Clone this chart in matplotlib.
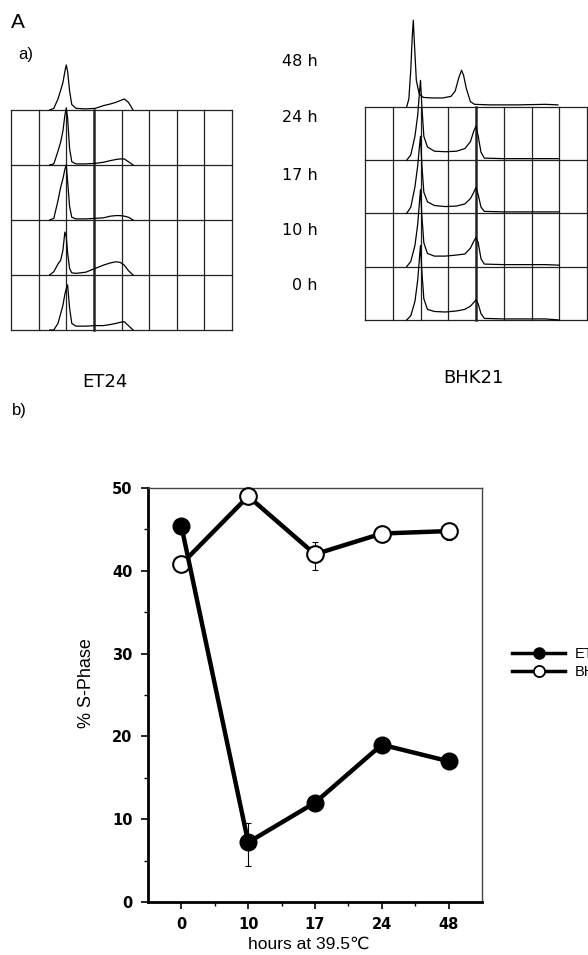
import numpy as np
import matplotlib
matplotlib.use("Agg")
import matplotlib.pyplot as plt
from matplotlib.lines import Line2D

plt.rcParams['font.family'] = ['Liberation Sans', 'DejaVu Sans']

W, H = 588, 955

# ---- a) flow cytometry histograms (x in grid columns, height in grid rows)
times = ['48 h', '24 h', '17 h', '10 h', '0 h']

et_ch = [1.40, 1.55, 1.70, 1.80, 1.88, 1.95, 2.00, 2.05, 2.12, 2.20, 2.35,
         2.70, 3.05, 3.35, 3.60, 3.80, 3.95, 4.10, 4.25, 4.42]
et_48 = [0.00, 0.03, 0.20, 0.36, 0.50, 0.70, 0.82, 0.70, 0.35, 0.10, 0.03,
         0.02, 0.03, 0.08, 0.11, 0.14, 0.17, 0.20, 0.14, 0.00]
et_24 = [0.00, 0.02, 0.25, 0.42, 0.62, 0.90, 1.04, 0.85, 0.30, 0.06, 0.02,
         0.02, 0.03, 0.05, 0.08, 0.10, 0.11, 0.11, 0.06, 0.00]
et_17 = [0.00, 0.03, 0.35, 0.60, 0.75, 0.92, 1.00, 0.70, 0.25, 0.05, 0.02,
         0.02, 0.03, 0.04, 0.07, 0.08, 0.08, 0.07, 0.05, 0.00]
et_10 = [0.00, 0.06, 0.20, 0.27, 0.45, 0.78, 0.70, 0.40, 0.12, 0.04, 0.03,
         0.05, 0.12, 0.18, 0.22, 0.24, 0.23, 0.18, 0.08, 0.00]
et_0 = [0.00, 0.00, 0.12, 0.30, 0.45, 0.65, 0.75, 0.82, 0.40, 0.12, 0.07,
        0.07, 0.08, 0.08, 0.10, 0.12, 0.14, 0.15, 0.08, 0.00]

bhk48_ch = [1.50, 1.58, 1.65, 1.70, 1.74, 1.78, 1.85, 1.95, 2.10, 2.40, 2.80,
            3.10, 3.25, 3.38, 3.48, 3.55, 3.65, 3.80, 3.95, 4.50, 5.50, 6.50, 6.95]
bhk_48 = [0.00, 0.15, 0.70, 1.30, 1.63, 1.20, 0.50, 0.25, 0.18, 0.17, 0.17,
          0.20, 0.30, 0.55, 0.69, 0.60, 0.35, 0.10, 0.05, 0.04, 0.04, 0.05, 0.04]
bhk_ch = [1.50, 1.65, 1.80, 1.90, 1.96, 2.00, 2.05, 2.12, 2.25, 2.50, 2.90,
          3.30, 3.60, 3.80, 3.92, 4.00, 4.08, 4.18, 4.30, 5.00, 5.80, 6.50, 7.00]
bhk_24 = [0.00, 0.10, 0.45, 0.85, 1.25, 1.50, 1.00, 0.45, 0.25, 0.17, 0.16,
          0.17, 0.22, 0.35, 0.55, 0.64, 0.45, 0.15, 0.04, 0.03, 0.03, 0.03, 0.03]
bhk_17 = [0.00, 0.12, 0.50, 0.90, 1.25, 1.45, 0.90, 0.40, 0.22, 0.15, 0.13,
          0.14, 0.18, 0.28, 0.40, 0.49, 0.35, 0.12, 0.04, 0.03, 0.03, 0.03, 0.03]
bhk_10 = [0.00, 0.10, 0.40, 0.80, 1.20, 1.45, 0.95, 0.45, 0.25, 0.20, 0.20,
          0.22, 0.24, 0.35, 0.48, 0.55, 0.45, 0.15, 0.05, 0.04, 0.04, 0.04, 0.03]
bhk_0 = [0.00, 0.08, 0.35, 0.75, 1.15, 1.40, 0.90, 0.40, 0.20, 0.16, 0.15,
         0.17, 0.20, 0.26, 0.33, 0.38, 0.30, 0.12, 0.03, 0.02, 0.02, 0.02, 0.00]

# ---- b) % S-phase
hours = ['0', '10', '17', '24', '48']
et24_s = [45.4, 7.2, 12.0, 19.0, 17.0]
et24_lo = [0, 2.9, 0, 0, 0]
et24_hi = [0, 2.4, 0, 0, 0]
bhk21_s = [40.8, 49.0, 42.0, 44.5, 44.8]
bhk21_lo = [0, 0, 1.9, 0, 1.1]
bhk21_hi = [0, 0, 1.5, 0, 0]


def px_rect(x0, y0, x1, y1):
    return [x0 / W, 1 - y1 / H, (x1 - x0) / W, (y1 - y0) / H]


def draw_grid(ax, thick_col):
    ax.set_xlim(0, 8)
    ax.set_ylim(0, 4)
    ax.axis('off')
    for i in range(9):
        ax.plot([i, i], [0, 4], color='#222222', lw=1.8 if i == thick_col else 0.9,
                clip_on=False)
    for j in range(5):
        ax.plot([0, 8], [j, j], color='#222222', lw=0.9, clip_on=False)


fig = plt.figure(figsize=(W / 100, H / 100), dpi=100)

ax_et = fig.add_axes(px_rect(11, 110, 232, 330))
draw_grid(ax_et, 3)
et_sets = [(et_ch, et_48), (et_ch, et_24), (et_ch, et_17), (et_ch, et_10), (et_ch, et_0)]
for k, (ch, h) in enumerate(et_sets):
    base = 4 - k
    ax_et.plot(ch, np.array(h) + base, color='black', lw=0.9, clip_on=False)

ax_bhk = fig.add_axes(px_rect(365, 107, 587, 320))
draw_grid(ax_bhk, 4)
bhk_sets = [(bhk48_ch, bhk_48), (bhk_ch, bhk_24), (bhk_ch, bhk_17),
            (bhk_ch, bhk_10), (bhk_ch, bhk_0)]
for k, (ch, h) in enumerate(bhk_sets):
    base = 4 - k
    ax_bhk.plot(ch, np.array(h) + base, color='black', lw=0.9, clip_on=False)

# labels of panel a
fig.text(11 / W, 1 - 22 / H, 'A', fontsize=15, va='center', ha='left')
fig.text(18 / W, 1 - 55 / H, 'a)', fontsize=12, va='center', ha='left')
for t, y in zip(times, [62, 118, 175, 230, 285]):
    fig.text(318 / W, 1 - y / H, t, fontsize=11.5, ha='right', va='center',
             family='DejaVu Sans')
fig.text(105 / W, 1 - 382 / H, 'ET24', fontsize=13, ha='center', va='center',
         family='DejaVu Sans')
fig.text(473 / W, 1 - 378 / H, 'BHK21', fontsize=13, ha='center', va='center',
         family='DejaVu Sans')
fig.text(12 / W, 1 - 410 / H, 'b)', fontsize=12, va='center', ha='left')

# ---- panel b
ax = fig.add_axes(px_rect(148, 488, 482, 902))
pos = np.arange(len(hours))
ax.errorbar(pos, bhk21_s, yerr=[bhk21_lo, bhk21_hi], fmt='none', ecolor='black',
            elinewidth=0.8, capsize=2, capthick=0.8, zorder=2)
ax.errorbar(pos, et24_s, yerr=[et24_lo, et24_hi], fmt='none', ecolor='black',
            elinewidth=0.8, capsize=2, capthick=0.8, zorder=2)
ax.plot(pos, bhk21_s, color='black', lw=3.2, marker='o', ms=12,
        mfc='white', mec='black', mew=1.5, zorder=3, clip_on=False)
ax.plot(pos, et24_s, color='black', lw=3.2, marker='o', ms=12,
        mfc='black', mec='black', zorder=4, clip_on=False)

ax.set_xlim(-0.5, 4.5)
ax.set_ylim(0, 50)
ax.set_xticks(pos)
ax.set_xticklabels(hours)
ax.set_xticks(pos[:-1] + 0.5, minor=True)
ax.set_yticks([0, 10, 20, 30, 40, 50])
ax.set_yticks([5, 15, 25, 35, 45], minor=True)
for lab in ax.get_xticklabels() + ax.get_yticklabels():
    lab.set_fontweight('bold')
    lab.set_fontsize(10.5)
    lab.set_family('DejaVu Sans')
ax.tick_params(which='major', direction='out', length=5, width=1.2, pad=6)
ax.tick_params(which='minor', direction='out', length=3, width=1.0)
ax.spines['left'].set_linewidth(2)
ax.spines['bottom'].set_linewidth(2)
ax.spines['top'].set_linewidth(1.0)
ax.spines['right'].set_linewidth(1.0)
ax.spines['top'].set_color('#444444')
ax.spines['right'].set_color('#444444')
ax.set_ylabel('% S-Phase', fontsize=13)
ax.yaxis.set_label_coords(-0.16, 0.53)
ax.set_xlabel('hours at 39.5\u2103', fontsize=12.5)
ax.xaxis.set_label_coords(0.48, -0.083)

handles = [Line2D([], [], color='black', lw=2.5, marker='o', ms=8, mfc='black', mec='black'),
           Line2D([], [], color='black', lw=2.5, marker='o', ms=8, mfc='white', mec='black', mew=1.3)]
fig.legend(handles, ['ET24', 'BHK21'], loc='center left',
           bbox_to_anchor=(505 / W, 1 - 663 / H), frameon=False, fontsize=10.5,
           handlelength=3.6, handletextpad=0.7, labelspacing=0.25, borderpad=0)

fig.savefig('out.png', dpi=100)
